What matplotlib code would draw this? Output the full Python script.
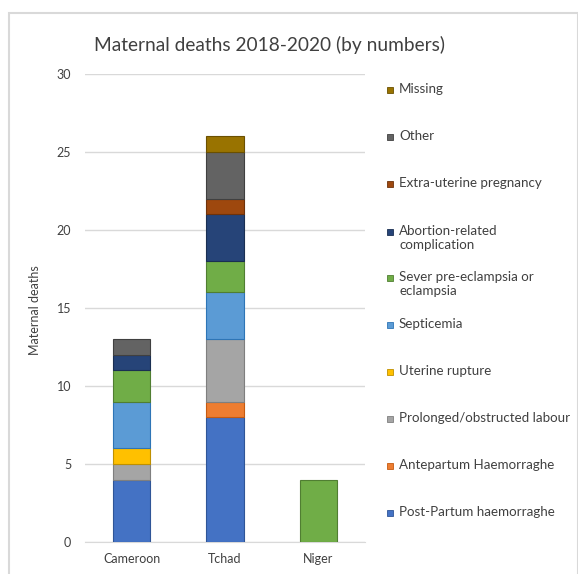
import numpy as np
import matplotlib.pyplot as plt
from matplotlib.patches import Rectangle

plt.rcParams['font.family'] = ['Lato', 'DejaVu Sans']

countries = ['Cameroon', 'Tchad', 'Niger']

# causes, bottom to top of the stack
causes = [
    'Post-Partum haemorraghe',
    'Antepartum Haemorraghe',
    'Prolonged/obstructed labour',
    'Uterine rupture',
    'Septicemia',
    'Sever pre-eclampsia or\neclampsia',
    'Abortion-related\ncomplication',
    'Extra-uterine pregnancy',
    'Other',
    'Missing',
]
post_partum = [4, 8, 0]
antepartum = [0, 1, 0]
prolonged = [1, 4, 0]
uterine_rupture = [1, 0, 0]
septicemia = [3, 3, 0]
pre_eclampsia = [2, 2, 4]
abortion = [1, 3, 0]
extra_uterine = [0, 1, 0]
other = [1, 3, 0]
missing = [0, 1, 0]

series = [post_partum, antepartum, prolonged, uterine_rupture, septicemia,
          pre_eclampsia, abortion, extra_uterine, other, missing]
colors = ['#4472C4', '#ED7D31', '#A5A5A5', '#FFC000', '#5B9BD5',
          '#70AD47', '#264478', '#9E480E', '#636363', '#997300']
edges = ['#2F5597', '#C55A11', '#7F7F7F', '#BF9000', '#2E75B6',
         '#507E32', '#1A2F52', '#6E320A', '#404040', '#6B5000']

W, H = 578, 574
fig = plt.figure(figsize=(W / 100, H / 100), dpi=100)
ax = fig.add_axes([85 / W, 1 - 542 / H, 280 / W, 468 / H])

x = np.arange(len(countries))
bottom = np.zeros(len(countries))
for vals, c, ec in zip(series, colors, edges):
    vals = np.array(vals, dtype=float)
    nz = vals > 0  # skip empty segments so no stray edge lines appear
    ax.bar(x[nz], vals[nz], 0.4, bottom=bottom[nz], color=c, edgecolor=ec,
           linewidth=0.8, zorder=3)
    bottom += vals

ax.set_xlim(-0.5, 2.5)
ax.set_ylim(0, 30)
ax.set_yticks(range(0, 31, 5))
ax.set_xticks(x)
ax.set_xticklabels(countries)
ax.tick_params(length=0, labelsize=9, colors='#404040', pad=10)
ax.tick_params(axis='x', pad=8)
ax.yaxis.grid(True, color='#d9d9d9', linewidth=1)
ax.set_axisbelow(True)
for s in ['top', 'right', 'left']:
    ax.spines[s].set_visible(False)
ax.spines['bottom'].set_color('#d9d9d9')
ax.set_facecolor('none')

fig.text(35 / W, 1 - 310 / H, 'Maternal deaths', rotation=90, ha='center', va='center',
         fontsize=9, color='#404040')
fig.text(270 / W, 1 - 45 / H, 'Maternal deaths 2018-2020 (by numbers)', ha='center',
         va='center', fontsize=13.8, color='#404040')

# manual legend, top entry first
ys = [90, 137, 184, 232, 278, 325, 372, 419, 466, 513]
for y, lab, c, ec in zip(ys, causes[::-1], colors[::-1], edges[::-1]):
    fig.patches.append(Rectangle((387 / W, 1 - (y + 3) / H), 6 / W, 6 / H,
                                 transform=fig.transFigure, facecolor=c,
                                 edgecolor=ec, linewidth=0.6))
    fig.text(399 / W, 1 - (y - 7) / H, lab, ha='left', va='top', fontsize=9.6,
             color='#404040', linespacing=1.2)

# chart frame
fig.patches.append(Rectangle((9 / W, -0.01), (W - 9) / W, 1.01 - 13 / H,
                             transform=fig.transFigure, fill=False,
                             edgecolor='#d9d9d9', linewidth=1.5))

fig.savefig('out.png', dpi=100)
